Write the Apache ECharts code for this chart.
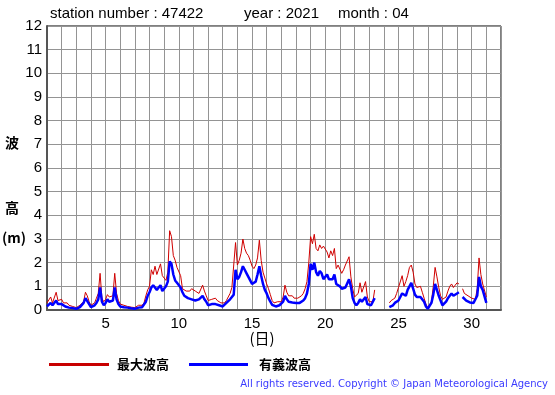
<!DOCTYPE html>
<html>
<head>
<meta charset="utf-8">
<script src="https://cdn.jsdelivr.net/npm/echarts@6/dist/echarts.min.js"></script>
<style>html,body{margin:0;padding:0;background:#fff;}#c{width:555px;height:395px;}</style>
</head>
<body>
<div id="c"></div>
<script>
// ---- data (3-hourly, starting day 1 00:00) ----
const startDay = 1;
const stepDay = 3 / 24;
const xTickLabels = [5, 10, 15, 20, 25, 30];
const seriesNames = ['最大波高', '有義波高'];
const maxWave = [
  0.3, 0.35, 0.55, 0.3, 0.35, 0.75, 0.4, 0.35,
  0.45, 0.3, 0.35, 0.3, 0.2, 0.25, 0.15, 0.1,
  0.1, 0.15, 0.2, 0.2, 0.35, 0.75, 0.6, 0.35,
  0.2, 0.15, 0.3, 0.5, 0.7, 1.55, 0.5, 0.35,
  0.45, 0.65, 0.55, 0.5, 0.6, 1.55, 0.7, 0.4,
  0.25, 0.25, 0.2, 0.25, 0.15, 0.15, 0.12, 0.1,
  0.1, 0.15, 0.2, 0.15, 0.2, 0.3, 0.6, 0.85,
  1.0, 1.7, 1.5, 1.85, 1.5, 1.55, 1.95, 1.45,
  1.4, 1.25, 1.6, 3.35, 3.1, 2.3, 2.1, 1.8,
  1.8, 1.45, 0.9, 0.85, 0.8, 0.75, 0.8, 0.9,
  0.85, 0.8, 0.75, 0.7, 0.65, 1.05, 0.8, 0.6,
  0.4, 0.35, 0.45, 0.4, 0.5, 0.4, 0.35, 0.3,
  0.35, 0.3, 0.4, 0.55, 0.7, 0.95, 1.0, 2.85,
  1.9, 2.1, 2.4, 3.0, 2.6, 2.4, 2.3, 2.1,
  1.85, 1.75, 1.9, 2.2, 2.95, 2.1, 1.6, 1.35,
  1.1, 0.9, 0.65, 0.4, 0.3, 0.3, 0.35, 0.3,
  0.35, 0.55, 1.05, 0.75, 0.6, 0.55, 0.6, 0.5,
  0.55, 0.5, 0.55, 0.6, 0.7, 0.9, 1.2, 2.0,
  3.1, 2.8, 3.2, 2.6, 2.5, 2.75, 2.6, 2.7,
  2.75, 2.45, 2.2, 2.5, 2.3, 2.6, 1.75, 1.9,
  1.9, 1.55, 1.7, 1.9, 1.95, 2.25, 1.4, 0.9,
  0.55, 0.6, 0.7, 1.15, 0.75, 0.8, 1.2, 0.55,
  0.35, 0.4, 0.35, 0.85, null, null, null, null,
  null, null, null, 0.3, 0.4, 0.35, 0.5, 0.7,
  0.95, 1.0, 1.45, 1.0, 1.2, 1.45, 1.8, 1.9,
  1.6, 1.1, 0.95, 0.9, 1.0, 0.75, 0.5, 0.25,
  0.1, 0.15, 0.35, 1.0, 1.8, 1.4, 0.95, 0.6,
  0.45, 0.4, 0.55, 0.8, 1.0, 1.1, 0.95, 1.05,
  1.15, 1.1, null, 0.9, 0.7, 0.65, 0.6, 0.55,
  0.5, 0.55, 0.45, 0.9, 2.2, 1.5, 1.1, 1.05,
  0.55
];
const sigWave = [
  0.15, 0.2, 0.3, 0.2, 0.25, 0.4, 0.25, 0.2,
  0.25, 0.2, 0.15, 0.15, 0.1, 0.12, 0.08, 0.05,
  0.05, 0.08, 0.12, 0.15, 0.3, 0.5, 0.45, 0.25,
  0.12, 0.1, 0.2, 0.3, 0.45, 0.95, 0.35, 0.2,
  0.3, 0.45, 0.35, 0.3, 0.4, 0.95, 0.45, 0.25,
  0.15, 0.15, 0.12, 0.15, 0.1, 0.08, 0.07, 0.05,
  0.05, 0.08, 0.1, 0.08, 0.12, 0.2, 0.35, 0.6,
  0.75, 0.95, 1.05, 1.1, 0.85, 0.95, 1.05, 0.8,
  0.75, 1.0, 1.2, 2.05, 1.95, 1.5, 1.25, 1.15,
  1.1, 0.95, 0.75, 0.6, 0.55, 0.5, 0.45, 0.45,
  0.42, 0.4, 0.42, 0.45, 0.5, 0.6, 0.45, 0.35,
  0.2, 0.2, 0.25, 0.22, 0.25, 0.2, 0.2, 0.22,
  0.15, 0.12, 0.3, 0.35, 0.45, 0.55, 0.65, 1.7,
  1.3, 1.4, 1.6, 1.85, 1.7, 1.55, 1.4, 1.25,
  1.1, 1.05, 1.2, 1.5, 1.85, 1.45, 1.1, 0.85,
  0.7, 0.5, 0.35, 0.22, 0.18, 0.15, 0.18, 0.2,
  0.25, 0.35, 0.6, 0.45, 0.35, 0.3, 0.32, 0.28,
  0.3, 0.28, 0.3, 0.32, 0.4, 0.5, 0.7, 1.1,
  1.95, 1.7, 2.0, 1.6, 1.45, 1.65, 1.55, 1.3,
  1.3, 1.5, 1.3, 1.35, 1.3, 1.5, 1.1, 1.05,
  1.0, 0.9, 0.9, 0.95, 1.0, 1.3, 1.0, 0.5,
  0.3, 0.2, 0.3, 0.45, 0.35, 0.4, 0.55, 0.25,
  0.18, 0.2, 0.2, 0.5, null, null, null, null,
  null, null, null, 0.12, 0.15, 0.2, 0.3, 0.35,
  0.4, 0.55, 0.7, 0.65, 0.6, 0.85, 1.0, 1.15,
  0.9, 0.65, 0.55, 0.6, 0.55, 0.5, 0.35, 0.15,
  0.05, 0.08, 0.3, 0.65, 1.1, 0.85, 0.6, 0.4,
  0.2, 0.22, 0.35, 0.5, 0.6, 0.7, 0.6, 0.65,
  0.7, 0.75, null, 0.55, 0.5, 0.4, 0.35, 0.32,
  0.3, 0.3, 0.25, 0.6, 1.4, 1.0, 0.85, 0.8,
  0.3
];

function toPoints(arr) {
  return arr.map((v, i) => [startDay + i * stepDay, v]);
}

const latin = "'Liberation Sans', Arial, sans-serif";
const cjk = "'Noto Sans CJK JP', sans-serif";

const chart = echarts.init(document.getElementById('c'), null, { renderer: 'canvas' });
chart.setOption({
  animation: false,
  backgroundColor: '#ffffff',
  grid: {
    left: 47, top: 26, width: 454, height: 284,
    show: true, borderColor: '#000', borderWidth: 1, backgroundColor: 'transparent'
  },
  legend: [
    {
      data: [seriesNames[0]], left: 44, top: 353, itemWidth: 60, itemHeight: 3,
      icon: 'rect', itemStyle: { color: '#c80000' },
      textStyle: { fontFamily: cjk, fontWeight: 'bold', fontSize: 13, color: '#000', padding: [0, 0, 0, 3] },
      selectedMode: false
    },
    {
      data: [seriesNames[1]], left: 184, top: 353, itemWidth: 59, itemHeight: 3,
      icon: 'rect', itemStyle: { color: '#0000ff' },
      textStyle: { fontFamily: cjk, fontWeight: 'bold', fontSize: 13, color: '#000', padding: [0, 0, 0, 6] },
      selectedMode: false
    }
  ],
  xAxis: {
    type: 'value', min: 1, max: 32, interval: 1,
    axisLine: { show: true, onZero: false, lineStyle: { color: '#555', width: 2 } },
    axisTick: { show: false },
    splitLine: { show: true, lineStyle: { color: '#949494', width: 1 } },
    axisLabel: {
      margin: 6, fontFamily: latin, fontSize: 15, color: '#000',
      formatter: v => (xTickLabels.indexOf(v) >= 0 ? String(v) : '')
    }
  },
  yAxis: {
    type: 'value', min: 0, max: 12, interval: 1,
    axisLine: { show: true, lineStyle: { color: '#555', width: 2 } },
    axisTick: { show: false },
    splitLine: { show: true, lineStyle: { color: '#949494', width: 1 } },
    axisLabel: { margin: 5, fontFamily: latin, fontSize: 15, color: '#000' }
  },
  graphic: [
    { type: 'text', left: 50, top: 6, style: { text: 'station number : 47422', font: '15px ' + latin, fill: '#000' } },
    { type: 'text', left: 244, top: 6, style: { text: 'year : 2021', font: '15px ' + latin, fill: '#000' } },
    { type: 'text', left: 338, top: 6, style: { text: 'month : 04', font: '15px ' + latin, fill: '#000' } },
    { type: 'text', x: 12, y: 143, style: { text: '波', font: 'bold 14px ' + cjk, fill: '#000', textAlign: 'center', textVerticalAlign: 'middle' } },
    { type: 'text', x: 12, y: 208, style: { text: '高', font: 'bold 14px ' + cjk, fill: '#000', textAlign: 'center', textVerticalAlign: 'middle' } },
    { type: 'text', x: 14, y: 238, style: { text: '(m)', font: 'bold 14px ' + cjk, fill: '#000', textAlign: 'center', textVerticalAlign: 'middle' } },
    { type: 'text', x: 262, y: 338, style: { text: '(日)', font: '15px ' + cjk, fill: '#000', textAlign: 'center', textVerticalAlign: 'middle' } },
    { type: 'text', x: 548, y: 384, style: { text: 'All rights reserved. Copyright © Japan Meteorological Agency', font: '10px DejaVu Sans, sans-serif', fill: '#3a3aff', textAlign: 'right', textVerticalAlign: 'middle' } }
  ],
  series: [
    {
      name: seriesNames[0], type: 'line', data: toPoints(maxWave), showSymbol: false,
      lineStyle: { color: '#d00000', width: 1 }, itemStyle: { color: '#c80000' }, z: 2
    },
    {
      name: seriesNames[1], type: 'line', data: toPoints(sigWave), showSymbol: false,
      lineStyle: { color: '#0000ff', width: 2.5 }, itemStyle: { color: '#0000ff' }, z: 3
    }
  ]
});
</script>
</body>
</html>
